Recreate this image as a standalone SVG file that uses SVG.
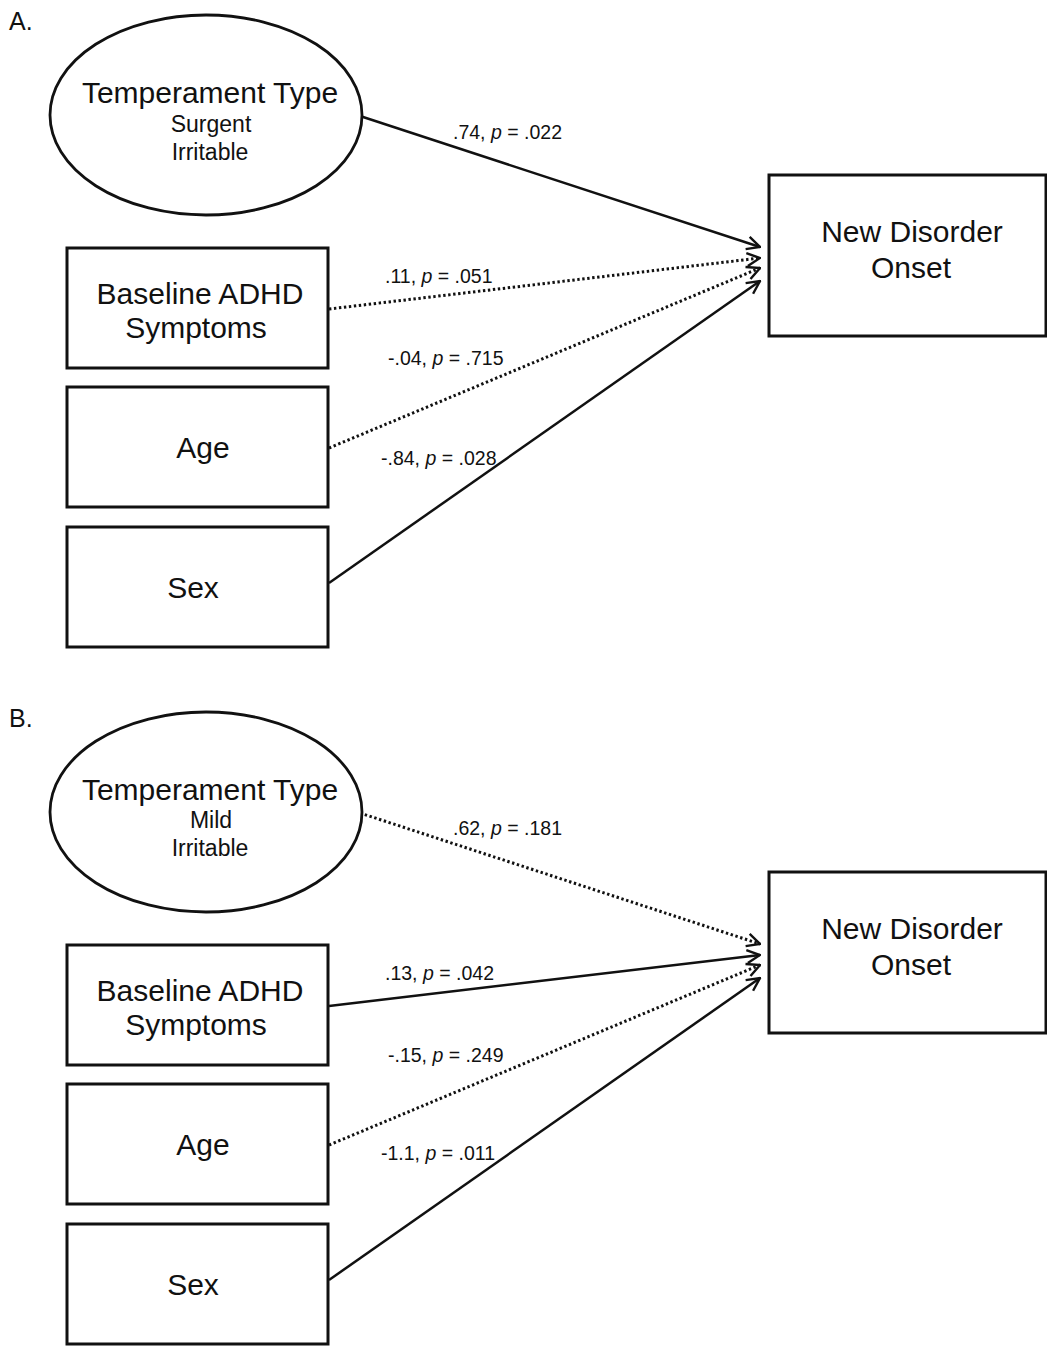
<svg xmlns="http://www.w3.org/2000/svg" width="1047" height="1347" viewBox="0 0 1047 1347">
<defs>
<style>
text{font-family:"Liberation Sans",Arial,sans-serif;fill:#111}
.main{font-size:30px;text-anchor:middle}
.sub{font-size:23px;text-anchor:middle}
.lbl{font-size:19.5px}
.panel{font-size:25px}
.box{fill:#fff;stroke:#111;stroke-width:3}
.ell{fill:#fff;stroke:#111;stroke-width:2.8}
.solid{fill:none;stroke:#111;stroke-width:2.5;marker-end:url(#arr)}
.dot{fill:none;stroke:#111;stroke-width:3;stroke-dasharray:2.4 2.6;marker-end:url(#arr)}
</style>
<marker id="arr" viewBox="0 0 16 16" refX="15" refY="8" markerWidth="16" markerHeight="16" markerUnits="userSpaceOnUse" orient="auto">
<path d="M2,1.5 L15,8 L2,14.5" fill="none" stroke="#111" stroke-width="2.4" stroke-dasharray="none"/>
</marker>
</defs>
<rect width="1047" height="1347" fill="#fff"/>

<!-- Panel A -->
<g id="panelA">
<text class="panel" x="9" y="30">A.</text>
<g id="connectorsA">
<line class="solid" x1="360" y1="116" x2="760" y2="247"/>
<line class="dot" x1="329" y1="309" x2="760" y2="258"/>
<line class="dot" x1="329" y1="448" x2="760" y2="268"/>
<line class="solid" x1="329" y1="583" x2="760" y2="281"/>
<text class="lbl" x="453" y="139">.74, <tspan font-style="italic">p</tspan> = .022</text>
<text class="lbl" x="385" y="283">.11, <tspan font-style="italic">p</tspan> = .051</text>
<text class="lbl" x="388" y="365">-.04, <tspan font-style="italic">p</tspan> = .715</text>
<text class="lbl" x="381" y="465">-.84, <tspan font-style="italic">p</tspan> = .028</text>
</g>
<g id="A_temperament">
<ellipse class="ell" cx="206" cy="115" rx="156" ry="100"/>
<text class="main" x="210" y="103">Temperament Type</text>
<text class="sub" x="211" y="132">Surgent</text>
<text class="sub" x="210" y="160">Irritable</text>
</g>
<g id="A_adhd">
<rect class="box" x="67" y="248" width="261" height="120"/>
<text class="main" x="200" y="304">Baseline ADHD</text>
<text class="main" x="196" y="338">Symptoms</text>
</g>
<g id="A_age">
<rect class="box" x="67" y="387" width="261" height="120"/>
<text class="main" x="203" y="458">Age</text>
</g>
<g id="A_sex">
<rect class="box" x="67" y="527" width="261" height="120"/>
<text class="main" x="193" y="598">Sex</text>
</g>
<g id="A_onset">
<rect class="box" x="769" y="175" width="277" height="161"/>
<text class="main" x="912" y="242">New Disorder</text>
<text class="main" x="911" y="278">Onset</text>
</g>
</g>

<!-- Panel B -->
<g id="panelB">
<text class="panel" x="9" y="727">B.</text>
<g id="connectorsB">
<line class="dot" x1="360" y1="813" x2="760" y2="944"/>
<line class="solid" x1="329" y1="1006" x2="760" y2="955"/>
<line class="dot" x1="329" y1="1145" x2="760" y2="965"/>
<line class="solid" x1="329" y1="1280" x2="760" y2="978"/>
<text class="lbl" x="453" y="835">.62, <tspan font-style="italic">p</tspan> = .181</text>
<text class="lbl" x="385" y="980">.13, <tspan font-style="italic">p</tspan> = .042</text>
<text class="lbl" x="388" y="1062">-.15, <tspan font-style="italic">p</tspan> = .249</text>
<text class="lbl" x="381" y="1160">-1.1, <tspan font-style="italic">p</tspan> = .011</text>
</g>
<g id="B_temperament">
<ellipse class="ell" cx="206" cy="812" rx="156" ry="100"/>
<text class="main" x="210" y="800">Temperament Type</text>
<text class="sub" x="211" y="828">Mild</text>
<text class="sub" x="210" y="856">Irritable</text>
</g>
<g id="B_adhd">
<rect class="box" x="67" y="945" width="261" height="120"/>
<text class="main" x="200" y="1001">Baseline ADHD</text>
<text class="main" x="196" y="1035">Symptoms</text>
</g>
<g id="B_age">
<rect class="box" x="67" y="1084" width="261" height="120"/>
<text class="main" x="203" y="1155">Age</text>
</g>
<g id="B_sex">
<rect class="box" x="67" y="1224" width="261" height="120"/>
<text class="main" x="193" y="1295">Sex</text>
</g>
<g id="B_onset">
<rect class="box" x="769" y="872" width="277" height="161"/>
<text class="main" x="912" y="939">New Disorder</text>
<text class="main" x="911" y="975">Onset</text>
</g>
</g>
</svg>
